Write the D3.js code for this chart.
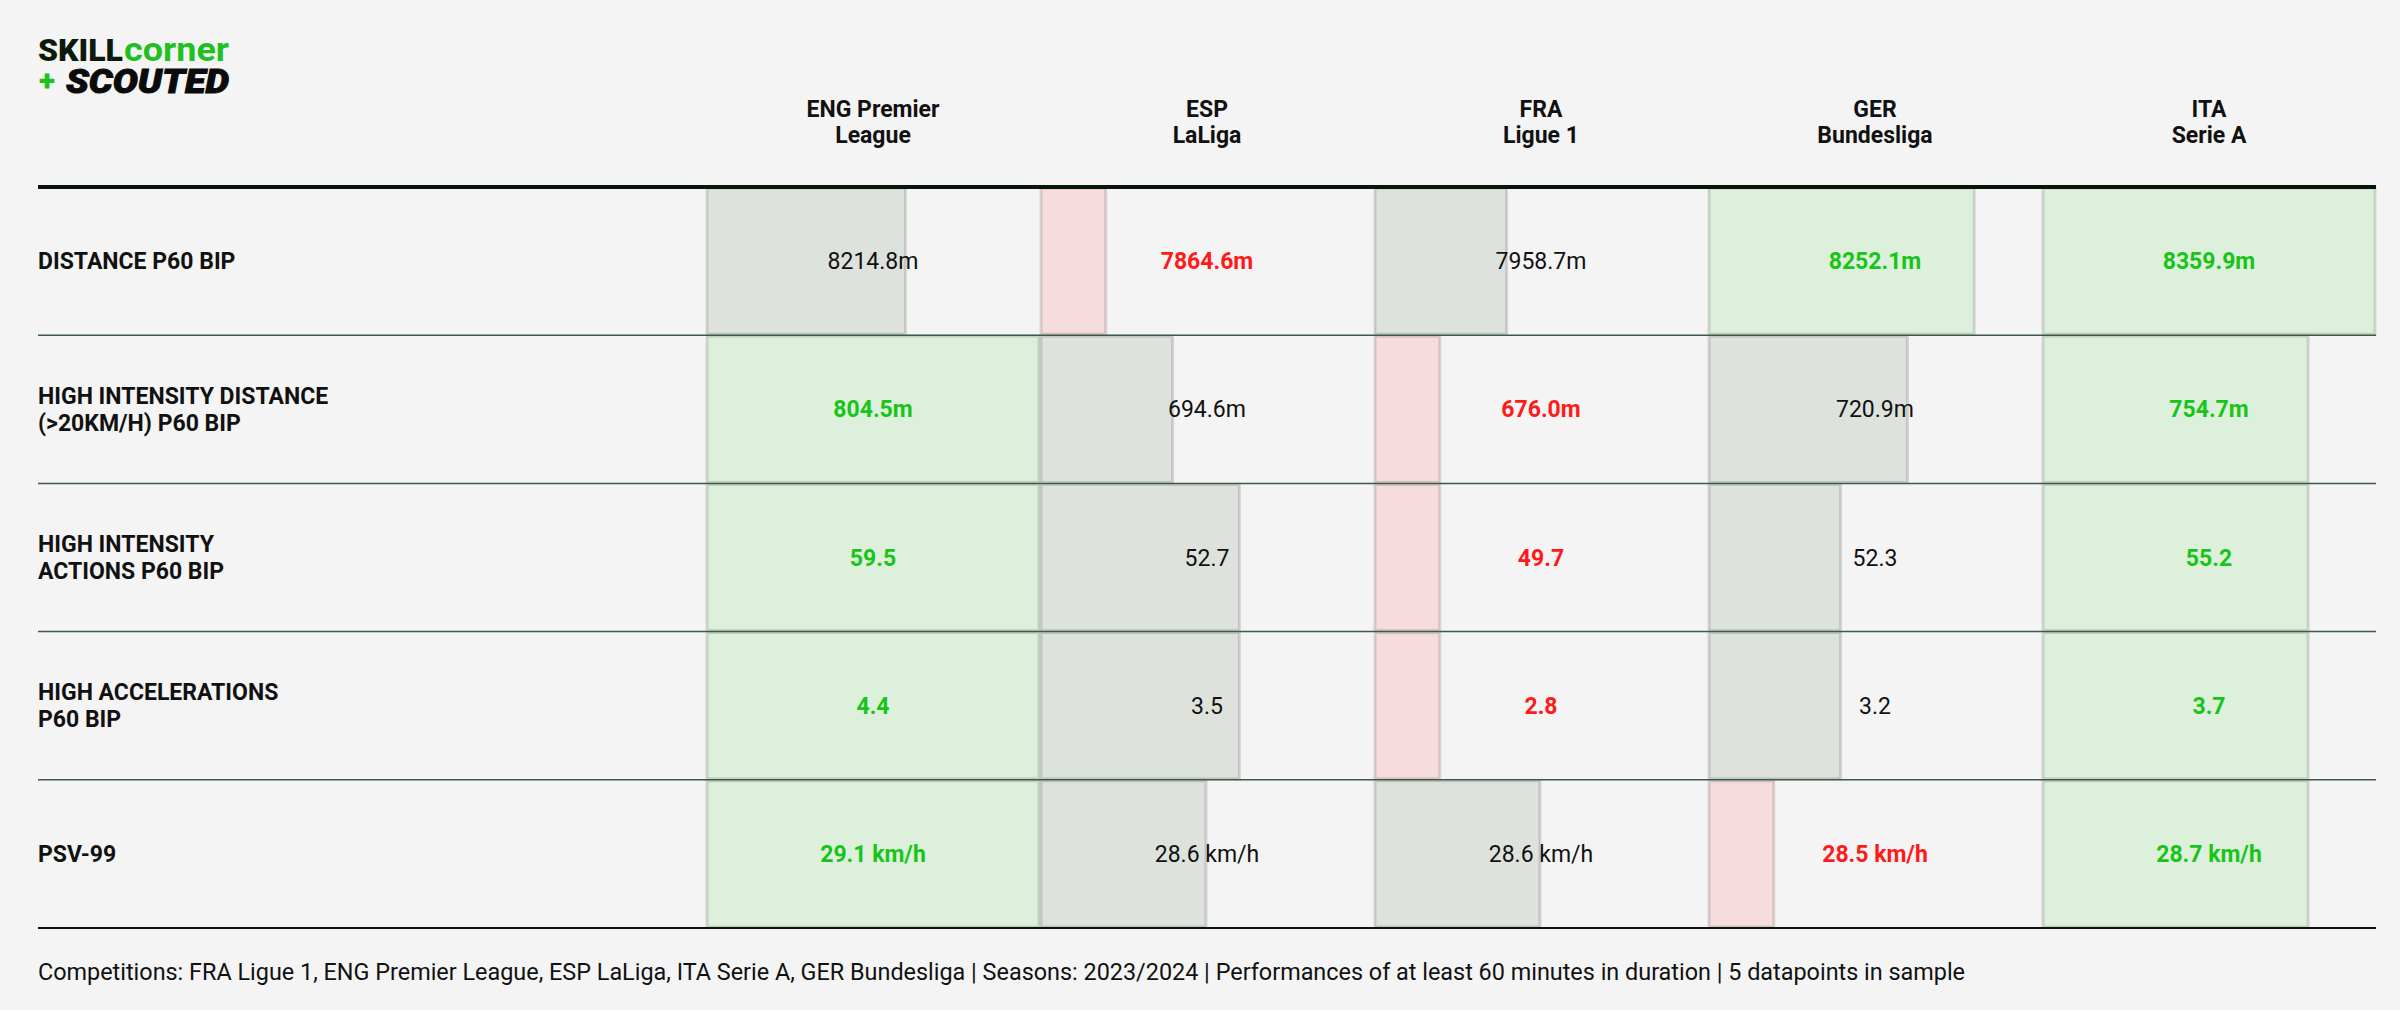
<!DOCTYPE html>
<html><head><meta charset="utf-8">
<script src="https://cdn.jsdelivr.net/npm/d3@7"></script>
<style>body{margin:0;background:#f4f4f4;}svg{display:block;font-family:Roboto,sans-serif;}</style>
</head><body><svg id="c" width="2400" height="1010"></svg>
<script>
const competitions = ["ENG Premier\nLeague","ESP\nLaLiga","FRA\nLigue 1","GER\nBundesliga","ITA\nSerie A"];
const metrics = ["DISTANCE P60 BIP","HIGH INTENSITY DISTANCE\n(>20KM/H) P60 BIP","HIGH INTENSITY\nACTIONS P60 BIP","HIGH ACCELERATIONS\nP60 BIP","PSV-99"];
const distance = [8214.8,7864.6,7958.7,8252.1,8359.9];
const hiDistance = [804.5,694.6,676.0,720.9,754.7];
const hiActions = [59.5,52.7,49.7,52.3,55.2];
const highAccel = [4.4,3.5,2.8,3.2,3.7];
const psv99 = [29.1,28.6,28.6,28.5,28.7];
const units = ["m","m","","","km/h"];
const rows = [distance,hiDistance,hiActions,highAccel,psv99];
const footer = "Competitions: FRA Ligue 1, ENG Premier League, ESP LaLiga, ITA Serie A, GER Bundesliga | Seasons: 2023/2024 | Performances of at least 60 minutes in duration | 5 datapoints in sample";

const svg = d3.select("#c");
const x = d3.scaleBand().domain(d3.range(5)).range([706,2376]).paddingInner(0);
const y = d3.scaleBand().domain(d3.range(5)).range([187,928]);
const w = d3.scaleLinear().domain([0,1]).range([0,x.bandwidth()]);

// logo
const logo = svg.append("g");
logo.append("text").attr("x",38).attr("y",61).attr("font-size",31).attr("font-weight",900)
  .attr("fill","#0b1a0b").attr("textLength",85).attr("lengthAdjust","spacingAndGlyphs").text("SKILL");
logo.append("text").attr("x",124).attr("y",61).attr("font-size",33).attr("font-weight",700)
  .attr("fill","#1fc01f").attr("textLength",105).attr("lengthAdjust","spacingAndGlyphs").text("corner");
logo.append("text").attr("x",39).attr("y",91).attr("font-size",30).attr("font-weight",900).attr("fill","#1fc01f").text("+");
logo.append("text").attr("x",66).attr("y",93).attr("font-size",34).attr("font-weight",900).attr("font-style","italic")
  .attr("fill","#0b0b0b").attr("textLength",163).attr("lengthAdjust","spacingAndGlyphs").attr("stroke","#0b0b0b").attr("stroke-width",1).text("SCOUTED");

// headers
competitions.forEach((c,i)=>{
  const t = svg.append("text").attr("text-anchor","middle").attr("font-size",23).attr("font-weight",700).attr("fill","#111");
  c.split("\n").forEach((l,k)=>t.append("tspan").attr("x",x(i)+x.bandwidth()/2).attr("y",117+k*26).text(l));
});

function pctRank(vals){
  return vals.map(v=>{
    const less = vals.filter(u=>u<v).length, eq = vals.filter(u=>u===v).length;
    return (less + (eq+1)/2)/vals.length;
  });
}

rows.forEach((vals,r)=>{
  const ranks = pctRank(vals);
  const sorted = vals.slice().sort((a,b)=>b-a);
  const g = svg.append("g");
  vals.forEach((v,i)=>{
    const top2 = v>=sorted[1], bottom = v===sorted[4];
    const fill = top2?"#dcf0dc":bottom?"#f6dcdc":"#dde2dd";
    const col = top2?"#19c419":bottom?"#ff1a1a":"#111";
    g.append("rect").attr("x",x(i)+1).attr("y",y(r)+1).attr("width",w(ranks[i])-2).attr("height",y.bandwidth()-2)
      .attr("fill",fill).attr("stroke","rgba(0,0,0,0.13)").attr("stroke-width",3);
    g.append("text").attr("x",x(i)+x.bandwidth()/2).attr("y",y(r)+y.bandwidth()/2+8).attr("text-anchor","middle")
      .attr("font-size",23).attr("font-weight",(top2||bottom)?700:400).attr("fill",col)
      .text(v.toFixed(1)+(units[r]==="km/h"?" km/h":units[r]));
  });
  const lines = metrics[r].split("\n");
  const t = svg.append("text").attr("font-size",23).attr("font-weight",700).attr("fill","#111");
  lines.forEach((l,k)=>t.append("tspan").attr("x",38).attr("y",y(r)+y.bandwidth()/2+8+(k-(lines.length-1)/2)*27).text(l));
  if(r>0) svg.append("line").attr("x1",38).attr("x2",2376).attr("y1",y(r)).attr("y2",y(r)).attr("stroke","#3c5a46").attr("stroke-width",1.5);
});

svg.append("line").attr("x1",38).attr("x2",2376).attr("y1",187).attr("y2",187).attr("stroke","#0b140b").attr("stroke-width",4);
svg.append("line").attr("x1",38).attr("x2",2376).attr("y1",928).attr("y2",928).attr("stroke","#0b140b").attr("stroke-width",2);
svg.append("text").attr("x",38).attr("y",980).attr("font-size",23.4).attr("fill","#111").text(footer);
</script></body></html>
